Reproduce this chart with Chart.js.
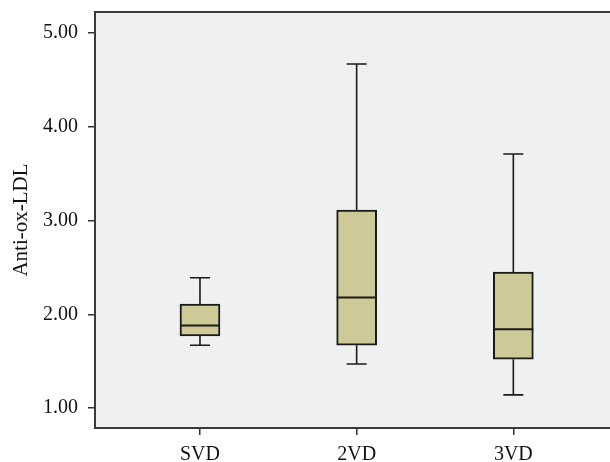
<!DOCTYPE html>
<html lang="en">
<head>
    <meta charset="UTF-8">
    <title>Anti-ox-LDL box plot</title>
    <script src="https://cdn.jsdelivr.net/npm/chart.js"></script>
    <style>
        body { margin: 0; background: white; }
        #wrap { width: 610px; height: 462px; }
    </style>
</head>
<body>
<div id="wrap"><canvas id="boxChart" width="610" height="462"></canvas></div>
<script>
// values
const categories = ['SVD', '2VD', '3VD'];
const mins    = [1.67, 1.47, 1.14];
const q1s     = [1.77, 1.67, 1.52];
const medians = [1.88, 2.18, 1.84];
const q3s     = [2.11, 3.11, 2.45];
const maxs    = [2.39, 4.67, 3.71];
const yTicks  = [1, 2, 3, 4, 5];

const FONT = { family: '"Liberation Serif", "Times New Roman", serif', size: 20 };

// background panel + top border
const panelPlugin = {
    id: 'panel',
    beforeDraw(chart) {
        const { ctx, chartArea: a } = chart;
        ctx.save();
        ctx.fillStyle = '#eff1f0';
        ctx.fillRect(a.left, a.top, a.right - a.left, a.bottom - a.top);
        ctx.strokeStyle = '#3a3a3a';
        ctx.lineWidth = 2;
        ctx.beginPath();
        ctx.moveTo(a.left, a.top);
        ctx.lineTo(a.right, a.top);
        ctx.stroke();
        ctx.restore();
    }
};

// whiskers and medians, placed through the chart scales
const whiskerPlugin = {
    id: 'whiskers',
    afterDatasetsDraw(chart) {
        const { ctx, scales: { x, y } } = chart;
        const meta = chart.getDatasetMeta(0);
        ctx.save();
        ctx.strokeStyle = '#1a1a1a';
        categories.forEach((c, i) => {
            const cx = x.getPixelForValue(i + 1);
            const half = meta.data[i].width / 2;
            const cap = half / 2;
            ctx.lineWidth = 1.6;
            ctx.beginPath();
            ctx.moveTo(cx, y.getPixelForValue(q3s[i]));
            ctx.lineTo(cx, y.getPixelForValue(maxs[i]));
            ctx.moveTo(cx - cap, y.getPixelForValue(maxs[i]));
            ctx.lineTo(cx + cap, y.getPixelForValue(maxs[i]));
            ctx.moveTo(cx, y.getPixelForValue(q1s[i]));
            ctx.lineTo(cx, y.getPixelForValue(mins[i]));
            ctx.moveTo(cx - cap, y.getPixelForValue(mins[i]));
            ctx.lineTo(cx + cap, y.getPixelForValue(mins[i]));
            ctx.stroke();
            ctx.lineWidth = 2;
            ctx.beginPath();
            ctx.moveTo(cx - half, y.getPixelForValue(medians[i]));
            ctx.lineTo(cx + half, y.getPixelForValue(medians[i]));
            ctx.stroke();
        });
        ctx.restore();
    }
};

const boxChart = new Chart(document.getElementById('boxChart'), {
    type: 'bar',
    data: {
        datasets: [{
            data: categories.map((c, i) => ({ x: i + 1, y: [q1s[i], q3s[i]] })),
            backgroundColor: '#cdca97',
            borderColor: '#1a1a1a',
            borderWidth: 2,
            borderSkipped: false,
            barThickness: 40
        }]
    },
    options: {
        responsive: false,
        animation: false,
        layout: { padding: { top: 12, left: 0, right: 0, bottom: 0 } },
        plugins: { legend: { display: false }, tooltip: { enabled: false } },
        scales: {
            x: {
                type: 'linear',
                offset: false,
                min: 0.33,
                max: 3.617,
                afterBuildTicks(s) { s.ticks = categories.map((c, i) => ({ value: i + 1 })); },
                afterFit(s) {
                    s.height = 34;
                    s.paddingLeft = 0;
                    s.paddingRight = 0;
                },
                ticks: {
                    callback: (v) => categories[v - 1],
                    font: FONT,
                    color: '#111',
                    padding: 8,
                    maxRotation: 0
                },
                grid: { offset: false, drawOnChartArea: false, drawTicks: true, tickLength: 7, color: '#333', lineWidth: 1.5 },
                border: { display: true, color: '#3a3a3a', width: 2 }
            },
            y: {
                min: 0.787,
                max: 5.224,
                afterBuildTicks(s) { s.ticks = yTicks.map(v => ({ value: v })); },
                afterFit(s) {
                    s.width = 95;
                    s.paddingTop = 0;
                    s.paddingBottom = 0;
                },
                ticks: {
                    callback: (v) => v.toFixed(2),
                    font: FONT,
                    color: '#111',
                    padding: 10
                },
                title: {
                    display: true,
                    text: 'Anti-ox-LDL',
                    font: { family: FONT.family, size: 21 },
                    color: '#111',
                    padding: { top: 9, bottom: 0 }
                },
                grid: { drawOnChartArea: false, drawTicks: true, tickLength: 7, color: '#333', lineWidth: 1.5 },
                border: { display: true, color: '#3a3a3a', width: 2 }
            }
        }
    },
    plugins: [panelPlugin, whiskerPlugin]
});
</script>
</body>
</html>
